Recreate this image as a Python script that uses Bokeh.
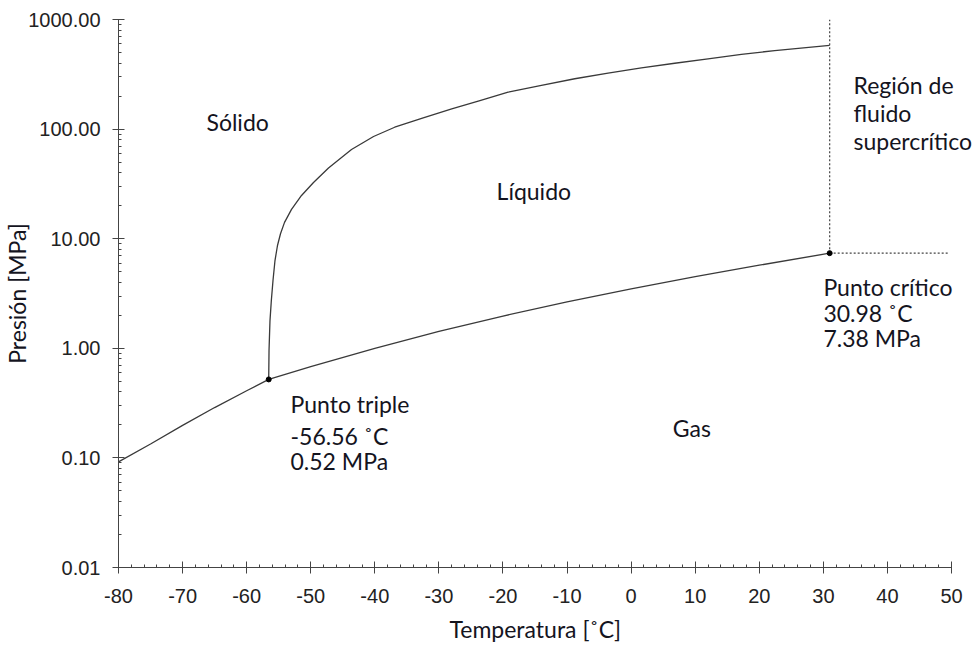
from bokeh.plotting import figure
from bokeh.models import Range1d, FixedTicker, PrintfTickFormatter, Label, Title
from bokeh.embed import file_html
from bokeh.resources import INLINE

# Sublimation curve (solid-gas)
sub_T = [-80, -75, -70, -65, -60, -56.56]
sub_P = [0.092, 0.134, 0.198, 0.288, 0.41, 0.52]

# Vaporization curve (liquid-gas)
vap_T = [-56.56, -50, -40, -30, -20, -10, 0, 10, 20, 30.98]
vap_P = [0.52, 0.68, 1.0, 1.43, 1.97, 2.65, 3.49, 4.50, 5.73, 7.38]

# Melting curve (solid-liquid)
melt_T = [-56.56, -56.51, -56.36, -56.15, -55.89, -55.58, -55.19, -54.72, -54.09, -53.0,
          -51.44, -49.57, -47.23, -43.64, -40.2, -36.9, -32.45, -28.0, -23.6, -19.2,
          -14.0, -8.8, -3.6, 1.6, 6.8, 12.0, 17.2, 22.4, 30.98]
melt_P = [0.52, 0.955, 1.79, 2.73, 4.16, 6.32, 8.67, 11.1, 14.1, 18.5,
          24.8, 32.6, 44.2, 65.1, 85.6, 104, 126.6, 153, 182, 217,
          250, 288, 324, 362, 399, 438, 480, 521, 580]

triple_T, triple_P = -56.56, 0.52
crit_T, crit_P = 30.98, 7.38

x_major = list(range(-80, 51, 10))
x_minor = list(range(-80, 51, 2))
y_major = [0.01, 0.1, 1, 10, 100, 1000]
y_minor = [k * 10.0 ** e for e in range(-2, 3) for k in range(2, 10)]

# frame extends past x=50 so that right-hand labels are not clipped;
# the visible axis is bounded to [-80, 50]
p = figure(frame_width=861, frame_height=548, y_axis_type="log",
           x_range=Range1d(-80, 54.36), y_range=Range1d(0.01, 1000),
           output_backend="svg", toolbar_location=None,
           min_border_left=117, min_border_right=0, min_border_top=19, min_border_bottom=81)
p.outline_line_color = None
p.xgrid.visible = False
p.ygrid.visible = False

line_col = "#3a3a3a"
p.line(sub_T, sub_P, line_color=line_col, line_width=1.3)
p.line(vap_T, vap_P, line_color=line_col, line_width=1.3)
p.line(melt_T, melt_P, line_color=line_col, line_width=1.3)

# dotted boundaries of supercritical region
p.line([crit_T, crit_T], [crit_P, 1000], line_color="#444444", line_width=1.2, line_dash="2 2")
p.line([crit_T, 49.7], [crit_P, crit_P], line_color="#444444", line_width=1.2, line_dash="2 2")

p.scatter([triple_T, crit_T], [triple_P, crit_P], size=5, color="black")

for ax in (p.xaxis[0], p.yaxis[0]):
    ax.axis_line_color = "#444444"
    ax.major_tick_line_color = "#444444"
    ax.minor_tick_line_color = "#444444"
    ax.major_tick_in = 6
    ax.major_tick_out = 6
    ax.minor_tick_in = 3
    ax.minor_tick_out = 0
    ax.major_label_text_font = "Liberation Sans"
    ax.major_label_text_font_size = "20px"
    ax.major_label_text_color = "#222222"
    ax.axis_label_text_font = "Lato"
    ax.axis_label_text_font_style = "normal"
    ax.axis_label_text_font_size = "23px"
    ax.axis_label_text_color = "#14141e"

p.xaxis.bounds = (-80, 50)
p.xaxis.ticker = FixedTicker(ticks=x_major, minor_ticks=x_minor)
p.yaxis.ticker = FixedTicker(ticks=y_major, minor_ticks=y_minor)
p.xaxis.formatter = PrintfTickFormatter(format="%d")
p.yaxis.formatter = PrintfTickFormatter(format="%.2f")
p.yaxis.axis_label = "Presión [MPa]"
p.xaxis.major_label_standoff = 15
p.yaxis.major_label_standoff = 12
p.yaxis.axis_label_standoff = -6

p.add_layout(Title(text="Temperatura [˚C]", align="left", offset=331, standoff=14,
                   text_font="Lato", text_font_size="23px", text_font_style="normal",
                   text_color="#14141e"), "below")

def lab(x, y, t):
    p.add_layout(Label(x=x, y=y, text=t, text_font="Lato", text_font_size="23px",
                       text_color="#14141e", text_baseline="middle", text_align="left"))

lab(-66.27, 115, "Sólido")
lab(-21.0, 27.5, "Líquido")
lab(6.5, 0.189, "Gas")
lab(34.7, 255, "Región de")
lab(34.7, 140, "fluido")
lab(34.7, 78, "supercrítico")
lab(-53.16, 0.313, "Punto triple")
lab(-53.16, 0.160, "-56.56 ˚C")
lab(-53.16, 0.0946, "0.52 MPa")
lab(30.0, 3.59, "Punto crítico")
lab(30.0, 2.08, " 30.98 ˚C")
lab(30.0, 1.23, "7.38 MPa")

open("out.html", "w").write(file_html(p, INLINE))
